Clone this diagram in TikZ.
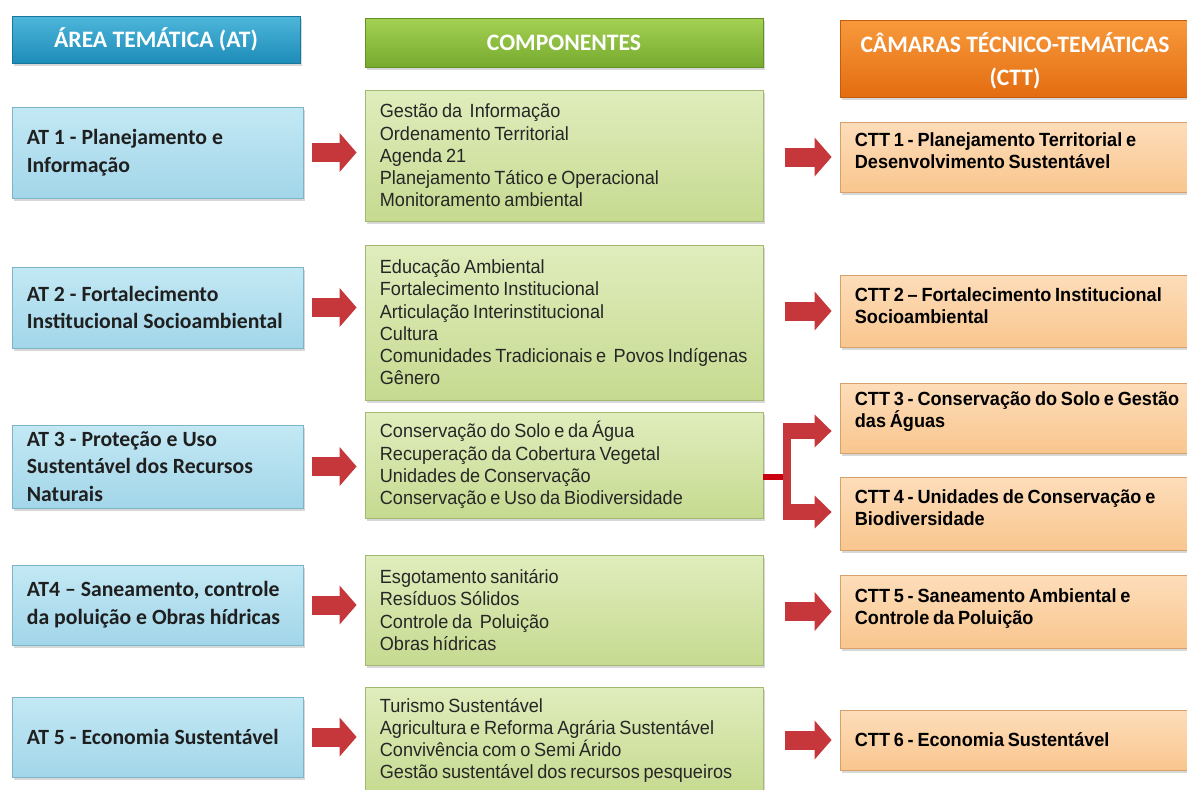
\documentclass[tikz,border=0pt]{standalone}
\usepackage{fontspec}
\setmainfont{Carlito}
\newfontfamily\compfont[FakeStretch=0.95,WordSpace=0.5]{Liberation Sans}
\newfontfamily\cttfont[FakeStretch=0.95,WordSpace=0.75]{Liberation Sans}
\usetikzlibrary{fit,shadows,arrows.meta}
\definecolor{athdrT}{HTML}{4DB6DA}
\definecolor{athdrB}{HTML}{1E8CB9}
\definecolor{atT}{HTML}{C3E8F4}
\definecolor{atB}{HTML}{A2D6E9}
\definecolor{atD}{HTML}{7DB4C8}
\definecolor{cpT}{HTML}{A4D154}
\definecolor{cpB}{HTML}{76AA2E}
\definecolor{cT}{HTML}{E0EDBD}
\definecolor{cB}{HTML}{C6DA90}
\definecolor{cD}{HTML}{A3B872}
\definecolor{orT}{HTML}{F79A3C}
\definecolor{orB}{HTML}{E46C10}
\definecolor{pT}{HTML}{FDDDBA}
\definecolor{pB}{HTML}{F9C68E}
\definecolor{pD}{HTML}{D6A26C}
\definecolor{arrowred}{HTML}{C6373B}
\definecolor{connred}{HTML}{C80010}
\begin{document}
\begin{tikzpicture}[x=0.75pt,y=-0.75pt,
  box/.style={rectangle, inner sep=0pt, line width=0.6pt,
    drop shadow={shadow xshift=1.8pt, shadow yshift=-2.2pt, opacity=0.3}},
  hdrat/.style={box, top color=athdrT, bottom color=athdrB, draw=athdrB!85!black},
  hdrcp/.style={box, top color=cpT, bottom color=cpB, draw=cpB!85!black},
  hdrct/.style={box, top color=orT, bottom color=orB, draw=orB!85!black},
  atbox/.style={box, top color=atT, bottom color=atB, draw=atD},
  cbox/.style={box, top color=cT, bottom color=cB, draw=cD},
  cttbox/.style={box, top color=pT, bottom color=pB, draw=pD},
  hdrtext/.style={text=white, font=\fontsize{17.7}{24.75}\selectfont\bfseries, align=center, inner sep=0pt},
  attext/.style={font=\fontsize{16.3}{20.8}\selectfont\bfseries, align=left, anchor=west, text=black!88, inner sep=0pt},
  comptext/.style={font=\compfont\fontsize{14.3}{16.7}\selectfont, align=left, anchor=west, inner sep=0pt, text=black!85},
  ctttext/.style={font=\cttfont\fontsize{14.3}{16.5}\selectfont\bfseries, align=left, anchor=west, inner sep=0pt, text=black},
  bigarrow/.style={draw=arrowred, line width=14.25pt, -{Triangle[length=12.75pt,width=28.5pt]}},
  brarrow/.style={draw=arrowred, line width=11.5pt, -{Triangle[length=12.75pt,width=24pt]}}
]
\useasboundingbox (0,0) rectangle (1187,789);
\fill[white] (0,0) rectangle (1187,789);
\clip (0,0) rectangle (1187,789);

% headers
\node[hdrat, fit={(12,16) (300,63)}] (athdr) {};
\node[hdrcp, fit={(365,18) (763,67)}] (cphdr) {};
\node[hdrct, fit={(840,20) (1190,97)}] (cthdr) {};
\node[hdrtext] (athdrt) at (athdr.center) {ÁREA TEMÁTICA (AT)};
\node[hdrtext] (cphdrt) at (cphdr.center) {COMPONENTES};
\node[hdrtext, yshift=-1.5pt] (cthdrt) at (cthdr.center) {CÂMARAS TÉCNICO-TEMÁTICAS\\(CTT)};

% AT boxes
\node[atbox, fit={(12,107) (303,198)}] (at1) {};
\node[atbox, fit={(12,267) (303,348)}] (at2) {};
\node[atbox, fit={(12,425) (303,508)}] (at3) {};
\node[atbox, fit={(12,565) (303,645)}] (at4) {};
\node[atbox, fit={(12,697) (303,777)}] (at5) {};
\node[attext] (at1t) at ([xshift=11.25pt]at1.west) {AT 1 - Planejamento e\\Informação};
\node[attext] (at2t) at ([xshift=11.25pt]at2.west) {AT 2 - Fortalecimento\\Institucional Socioambiental};
\node[attext] (at3t) at ([xshift=11.25pt]at3.west) {AT 3 - Proteção e Uso\\Sustentável dos Recursos\\Naturais};
\node[attext] (at4t) at ([xshift=11.25pt]at4.west) {AT4 – Saneamento, controle\\da poluição e Obras hídricas};
\node[attext] (at5t) at ([xshift=11.25pt]at5.west) {AT 5 - Economia Sustentável};

% component boxes
\node[cbox, fit={(365,90) (763,221)}] (c1) {};
\node[cbox, fit={(365,245) (763,400)}] (c2) {};
\node[cbox, fit={(365,412) (763,518)}] (c3) {};
\node[cbox, fit={(365,555) (763,665)}] (c4) {};
\node[cbox, fit={(365,687) (763,794)}] (c5) {};
\node[comptext] (c1t) at ([xshift=11.25pt]c1.west) {Gestão da \ Informação\\Ordenamento Territorial\\Agenda 21\\Planejamento Tático e Operacional\\Monitoramento ambiental};
\node[comptext] (c2t) at ([xshift=11.25pt]c2.west) {Educação Ambiental\\Fortalecimento Institucional\\Articulação Interinstitucional\\Cultura\\Comunidades Tradicionais e \ Povos Indígenas\\Gênero};
\node[comptext] (c3t) at ([xshift=11.25pt]c3.west) {Conservação do Solo e da Água\\Recuperação da Cobertura Vegetal\\Unidades de Conservação\\Conservação e Uso da Biodiversidade};
\node[comptext] (c4t) at ([xshift=11.25pt]c4.west) {Esgotamento sanitário\\Resíduos Sólidos\\Controle da \ Poluição\\Obras hídricas};
\node[comptext] (c5t) at ([xshift=11.25pt]c5.west) {Turismo Sustentável\\Agricultura e Reforma Agrária Sustentável\\Convivência com o Semi Árido\\Gestão sustentável dos recursos pesqueiros};

% CTT boxes
\node[cttbox, fit={(840,122) (1190,192)}] (ctt1) {};
\node[cttbox, fit={(840,275) (1190,347)}] (ctt2) {};
\node[cttbox, fit={(840,383) (1190,453)}] (ctt3) {};
\node[cttbox, fit={(840,477) (1190,550)}] (ctt4) {};
\node[cttbox, fit={(840,575) (1190,648)}] (ctt5) {};
\node[cttbox, fit={(840,710) (1190,770)}] (ctt6) {};
\node[ctttext] (ctt1t) at ([xshift=11.25pt,yshift=4.5pt]ctt1.west) {CTT 1 - Planejamento Territorial e\\Desenvolvimento Sustentável};
\node[ctttext] (ctt2t) at ([xshift=11.25pt,yshift=4pt]ctt2.west) {CTT 2 – Fortalecimento Institucional\\Socioambiental};
\node[ctttext] (ctt3t) at ([xshift=11.25pt,yshift=4.5pt]ctt3.west) {CTT 3 - Conservação do Solo e Gestão\\das Águas};
\node[ctttext] (ctt4t) at ([xshift=11.25pt,yshift=4.5pt]ctt4.west) {CTT 4 - Unidades de Conservação e\\Biodiversidade};
\node[ctttext] (ctt5t) at ([xshift=11.25pt,yshift=2.5pt]ctt5.west) {CTT 5 - Saneamento Ambiental e\\Controle da Poluição};
\node[ctttext] (ctt6t) at ([xshift=11.25pt]ctt6.west) {CTT 6 - Economia Sustentável};

% arrows AT -> components
\foreach \i in {1,...,5}{
  \draw[bigarrow, shorten <=6.75pt, shorten >=6pt] (at\i.east) -- (c\i.west |- at\i.east);
}
% arrows components -> CTT
\foreach \i/\j in {1/1,2/2,4/5,5/6}{
  \draw[bigarrow, shorten <=16.5pt, shorten >=6pt] (c\i.east |- ctt\j.west) -- (ctt\j.west);
}
% branch from c3 to ctt3 and ctt4
\coordinate (jn) at (787,477);
\coordinate (b3) at (783,431);
\coordinate (b4) at (783,512);
\draw[connred, line width=4.5pt] (jn -| c3.east) -- (jn);
\fill[arrowred] (783,423) rectangle (791,520);
\draw[brarrow, shorten >=6pt] (b3) -- (b3 -| ctt3.west);
\draw[brarrow, shorten >=6pt] (b4) -- (b4 -| ctt4.west);
\end{tikzpicture}
\end{document}
